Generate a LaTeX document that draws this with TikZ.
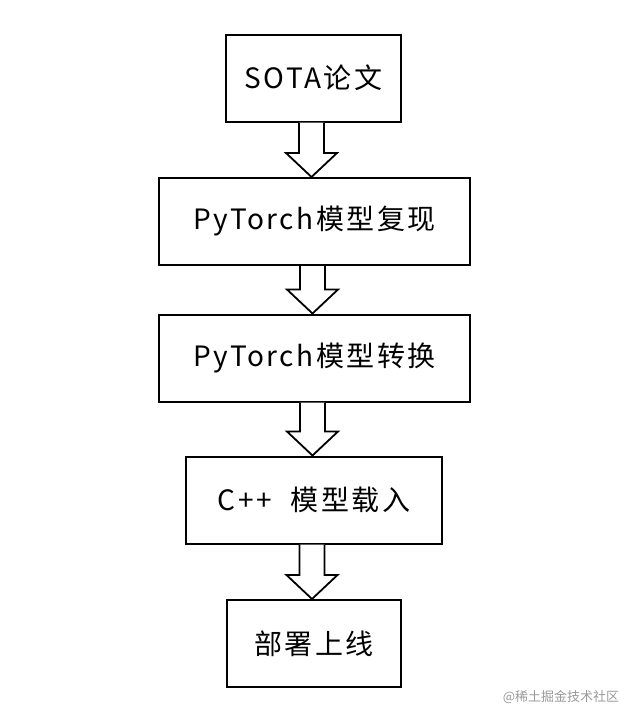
\documentclass[tikz,border=0pt]{standalone}
\usepackage{fontspec}
\setmainfont{Noto Sans CJK SC}[LetterSpace=9]
\newfontfamily\markfont{Noto Sans CJK SC}
\usetikzlibrary{calc}
\tikzset{
  stepbox/.style={draw, line width=2pt, minimum height=87pt, inner sep=0pt, font=\fontsize{28}{33}\selectfont},
  fatarrow/.style={draw, line width=1.8pt, fill=white, line join=miter}
}
% hollow arrow from one box down to the next
\newcommand\blockarrow[2]{%
  \path let \p1=(#1.south), \p2=(#2.north) in
    coordinate (s1) at (\x1-14.5,\y1) coordinate (s2) at (\x1+10.5,\y1)
    coordinate (h1) at (\x1-27.5,\y2+24) coordinate (h2) at (\x1+23.5,\y2+24)
    coordinate (t) at (\x1-2,\y2);
  \draw[fatarrow] (s1) -- (s1 |- h1) -- (h1) -- (t) -- (h2) -- (s2 |- h2) -- (s2);
}
\begin{document}
\begin{tikzpicture}[x=1pt, y=-1pt]
  %%%%% START %%%%%
  \useasboundingbox (0,0) rectangle (640,723);

  \node[stepbox, minimum width=175pt] (sota) at (313.5, 78) {SOTA论文};
  \node[stepbox, minimum width=311pt] (repro) at (314.5, 221.5) {PyTorch模型复现};
  \node[stepbox, minimum width=311pt] (convert) at (314.5, 358) {PyTorch模型转换};
  \node[stepbox, minimum width=256pt] (load) at (314, 500) {C++\hspace{10pt} 模型载入};
  \node[stepbox, minimum width=174pt] (deploy) at (314, 643.5) {部署上线};

  \blockarrow{sota}{repro}
  \blockarrow{repro}{convert}
  \blockarrow{convert}{load}
  \blockarrow{load}{deploy}

  \node[text=black!40, font=\markfont\fontsize{13}{15}\selectfont] (mark) at (561, 697) {@稀土掘金技术社区};
  %%%%% END %%%%%
\end{tikzpicture}
\end{document}
